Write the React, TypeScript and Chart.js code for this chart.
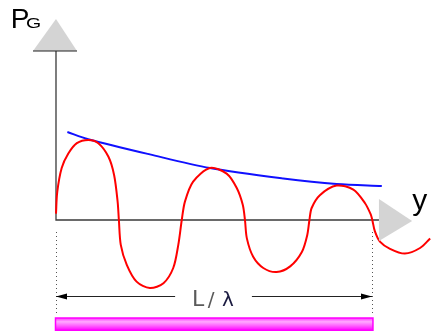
import React, { useEffect, useRef } from "react";
import { Chart, registerables } from "chart.js";

Chart.register(...registerables);

// Position along the span, as a fraction of L/λ (0 = origin, 1 = end of span)
const waveX = [
  0, 0.004, 0.018, 0.039, 0.066, 0.102, 0.134, 0.166, 0.184, 0.195, 0.199, 0.205,
  0.224, 0.255, 0.297, 0.34, 0.371, 0.387, 0.398, 0.408, 0.434, 0.487, 0.54, 0.572,
  0.591, 0.598, 0.604, 0.624, 0.656, 0.698, 0.741, 0.778, 0.795, 0.802, 0.809, 0.835,
  0.888, 0.941, 0.978, 0.996, 1.001, 1.009, 1.025, 1.057, 1.104, 1.152, 1.184,
];
// Oscillating P_G along the span
const waveY = [
  0.08, 0.35, 0.65, 0.83, 0.96, 1.0, 0.96, 0.79, 0.56, 0.23, 0, -0.31,
  -0.56, -0.77, -0.85, -0.79, -0.6, -0.31, 0, 0.23, 0.48, 0.65, 0.58, 0.4,
  0.19, 0, -0.23, -0.46, -0.6, -0.65, -0.58, -0.4, -0.19, 0, 0.15, 0.31,
  0.43, 0.38, 0.21, 0.07, 0, -0.14, -0.27, -0.36, -0.42, -0.35, -0.23,
];
// Decaying envelope through the crests
const envelopeX = [0.036, 0.102, 0.297, 0.487, 0.719, 0.888, 1.031];
const envelopeY = [1.1, 1.01, 0.82, 0.65, 0.52, 0.45, 0.425];

// Axis labels
const verticalLabel = ["P", "G"];
const horizontalLabel = "y";
const spanLabel = ["L", "/", "λ"];

// Visible window in data units
const X_MIN = -0.1772;
const X_MAX = 1.1867;
const Y_MIN = -1.3875;
const Y_MAX = 2.75;

const diagramPlugin = {
  id: "diagram",
  beforeDraw(chart: any) {
    const { ctx, width, height } = chart;
    ctx.save();
    ctx.fillStyle = "#ffffff";
    ctx.fillRect(0, 0, width, height);
    ctx.restore();
  },
  beforeDatasetsDraw(chart: any) {
    const { ctx } = chart;
    const sx = chart.scales.x;
    const sy = chart.scales.y;
    const px = (v: number) => sx.getPixelForValue(v);
    const py = (v: number) => sy.getPixelForValue(v);
    ctx.save();

    // axes
    ctx.strokeStyle = "#3a3a3a";
    ctx.lineWidth = 1.3;
    ctx.beginPath();
    ctx.moveTo(px(0), py(2.1125));
    ctx.lineTo(px(0), py(0));
    ctx.lineTo(px(1.032), py(0));
    ctx.stroke();

    // dotted span markers
    ctx.strokeStyle = "#555555";
    ctx.lineWidth = 1;
    ctx.setLineDash([1, 3]);
    [0, 1].forEach((v) => {
      ctx.beginPath();
      ctx.moveTo(Math.round(px(v)) + 0.5, py(-0.15));
      ctx.lineTo(Math.round(px(v)) + 0.5, py(-1.17));
      ctx.stroke();
    });
    ctx.setLineDash([]);

    // span dimension line with arrow heads
    const ay = Math.round(py(-0.95)) + 0.5;
    ctx.strokeStyle = "#222222";
    ctx.lineWidth = 1;
    ctx.beginPath();
    ctx.moveTo(px(0), ay);
    ctx.lineTo(px(0.377), ay);
    ctx.moveTo(px(0.62), ay);
    ctx.lineTo(px(1), ay);
    ctx.stroke();
    ctx.fillStyle = "#000000";
    const head = (x: number, dir: number) => {
      ctx.beginPath();
      ctx.moveTo(x, ay);
      ctx.lineTo(x + dir * 11, ay - 3);
      ctx.lineTo(x + dir * 11, ay + 3);
      ctx.closePath();
      ctx.fill();
    };
    head(px(0), 1);
    head(px(1), -1);

    // span label
    ctx.textBaseline = "alphabetic";
    ctx.textAlign = "left";
    ctx.font = "22px 'DejaVu Sans', sans-serif";
    ctx.fillStyle = "#5a5a5a";
    const ly = py(-1.069);
    ctx.fillText(spanLabel[0], px(0.43), ly);
    ctx.font = "20px 'DejaVu Sans', sans-serif";
    ctx.fillText(spanLabel[1], px(0.48), ly);
    ctx.font = "20px 'DejaVu Sans', sans-serif";
    ctx.fillStyle = "#1a1a40";
    ctx.fillText(spanLabel[2], px(0.525), ly);

    // span bar
    const bx0 = px(0) - 0.5;
    const bx1 = px(1.003);
    const by0 = py(-1.225);
    const by1 = py(-1.38);
    const grad = ctx.createLinearGradient(0, by0, 0, by1);
    grad.addColorStop(0, "#ff33ff");
    grad.addColorStop(0.3, "#ffaaff");
    grad.addColorStop(0.6, "#ff66ff");
    grad.addColorStop(1, "#ff00ff");
    ctx.fillStyle = grad;
    ctx.fillRect(bx0, by0, bx1 - bx0, by1 - by0);
    ctx.strokeStyle = "#ff00ff";
    ctx.lineWidth = 1.5;
    ctx.strokeRect(bx0, by0, bx1 - bx0, by1 - by0);

    ctx.restore();
  },
  afterDatasetsDraw(chart: any) {
    const { ctx } = chart;
    const sx = chart.scales.x;
    const sy = chart.scales.y;
    const px = (v: number) => sx.getPixelForValue(v);
    const py = (v: number) => sy.getPixelForValue(v);
    ctx.save();

    // arrow heads of the axes
    ctx.fillStyle = "#d4d4d4";
    ctx.beginPath();
    ctx.moveTo(px(-0.0728), py(2.1125));
    ctx.lineTo(px(0.0665), py(2.1125));
    ctx.lineTo(px(0), py(2.5125));
    ctx.closePath();
    ctx.fill();
    ctx.strokeStyle = "#222222";
    ctx.lineWidth = 1.2;
    ctx.beginPath();
    ctx.moveTo(px(-0.0728), py(2.1125));
    ctx.lineTo(px(0.0665), py(2.1125));
    ctx.stroke();

    ctx.beginPath();
    ctx.moveTo(px(1.022), py(0.2625));
    ctx.lineTo(px(1.022), py(-0.2625));
    ctx.lineTo(px(1.127), py(-0.0125));
    ctx.closePath();
    ctx.fill();

    // axis titles
    ctx.fillStyle = "#000000";
    ctx.textAlign = "left";
    ctx.textBaseline = "alphabetic";
    ctx.font = "28px 'Liberation Sans', Arial, sans-serif";
    ctx.fillText(verticalLabel[0], px(-0.143), py(2.4));
    ctx.save();
    ctx.translate(px(-0.095), py(2.4));
    ctx.scale(1.3, 1);
    ctx.font = "15px 'Liberation Sans', Arial, sans-serif";
    ctx.fillText(verticalLabel[1], 0, 0);
    ctx.restore();
    ctx.font = "30px 'Liberation Sans', Arial, sans-serif";
    ctx.fillText(horizontalLabel, px(1.127), py(0.125));

    ctx.restore();
  },
};

export default function App() {
  const canvasRef = useRef<HTMLCanvasElement | null>(null);

  useEffect(() => {
    document.body.style.margin = "0";
    const canvas = canvasRef.current;
    if (!canvas) return;
    const chart = new Chart(canvas, {
      type: "line",
      data: {
        datasets: [
          {
            label: "P_G",
            data: waveX.map((x, i) => ({ x, y: waveY[i] })),
            borderColor: "#ff0000",
            borderWidth: 2,
            pointRadius: 0,
            tension: 0.3,
            fill: false,
          },
          {
            label: "envelope",
            data: envelopeX.map((x, i) => ({ x, y: envelopeY[i] })),
            borderColor: "#1010ff",
            borderWidth: 2,
            pointRadius: 0,
            tension: 0.3,
            fill: false,
          },
        ],
      },
      options: {
        responsive: false,
        animation: false,
        devicePixelRatio: 1,
        layout: { padding: 0 },
        plugins: {
          legend: { display: false },
          tooltip: { enabled: false },
        },
        scales: {
          x: { type: "linear", min: X_MIN, max: X_MAX, display: false },
          y: { type: "linear", min: Y_MIN, max: Y_MAX, display: false },
        },
      },
      plugins: [diagramPlugin],
    });
    return () => chart.destroy();
  }, []);

  return (
    <div style={{ position: "absolute", left: 0, top: 0, width: 431, height: 331 }}>
      <canvas ref={canvasRef} width={431} height={331} />
    </div>
  );
}
